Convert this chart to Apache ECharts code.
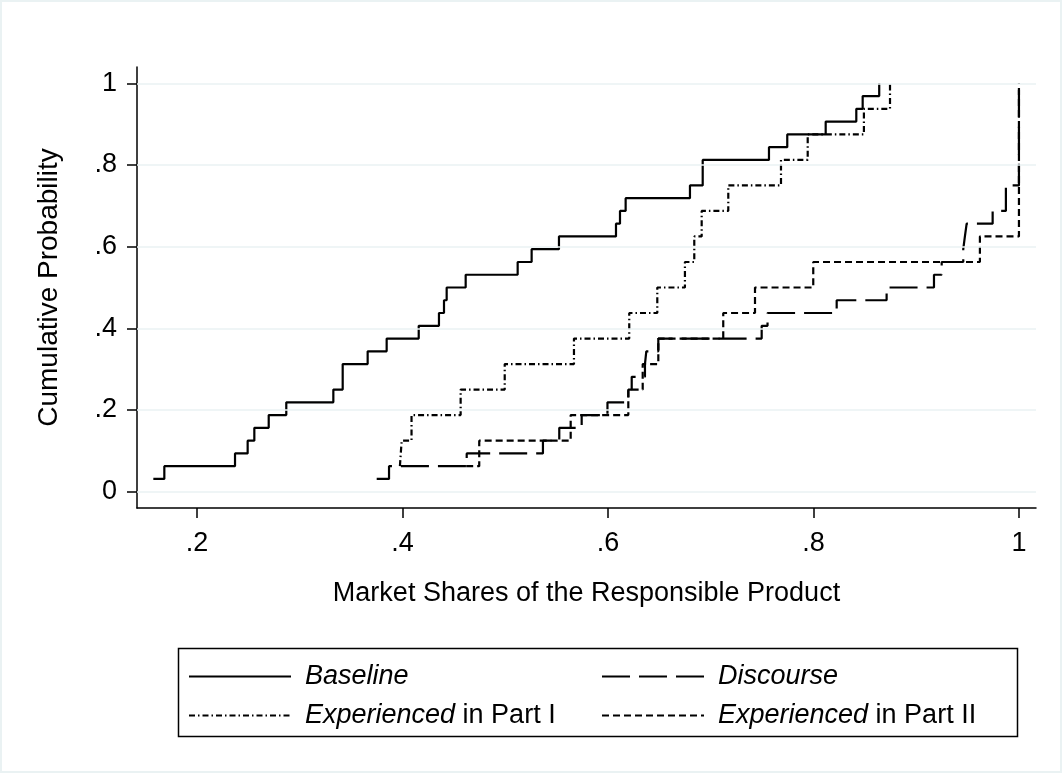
<!DOCTYPE html>
<html><head><meta charset="utf-8">
<script src="https://cdn.jsdelivr.net/npm/echarts@6/dist/echarts.min.js"></script>
<style>html,body{margin:0;padding:0;background:#fff}#c{width:1062px;height:773px}</style>
</head><body><div id="c"></div>
<script>
const xTicks = [0.2, 0.4, 0.6, 0.8, 1];
const yTicks = [0, 0.2, 0.4, 0.6, 0.8, 1];

const baselineX = [0.1575, 0.1682, 0.2370, 0.2493, 0.2558, 0.2698, 0.2869, 0.3327, 0.3418, 0.3418, 0.3661, 0.3846, 0.4158, 0.4355, 0.4404, 0.4430, 0.4615, 0.5121, 0.5257, 0.5523, 0.6078, 0.6117, 0.6172, 0.6798, 0.6922, 0.6922, 0.7567, 0.7745, 0.8119, 0.8417, 0.8479, 0.8640];
const baselineY = [0.03125, 0.0625, 0.09375, 0.125, 0.15625, 0.1875, 0.21875, 0.25, 0.28125, 0.3125, 0.34375, 0.375, 0.40625, 0.4375, 0.46875, 0.5, 0.53125, 0.5625, 0.59375, 0.625, 0.65625, 0.6875, 0.71875, 0.75, 0.78125, 0.8125, 0.84375, 0.875, 0.90625, 0.9375, 0.96875, 1];

const discourseX = [0.3749, 0.3869, 0.4625, 0.5367, 0.5526, 0.5744, 0.5995, 0.6198, 0.6231, 0.6360, 0.6373, 0.6490, 0.7496, 0.7553, 0.8226, 0.8712, 0.9173, 0.9248, 0.9458, 0.9474, 0.9491, 0.9744, 0.9873, 0.9873, 1, 1, 1, 1, 1, 1, 1, 1];
const discourseY = [0.03125, 0.0625, 0.09375, 0.125, 0.15625, 0.1875, 0.21875, 0.25, 0.28125, 0.3125, 0.34375, 0.375, 0.40625, 0.4375, 0.46875, 0.5, 0.53125, 0.5625, 0.59375, 0.625, 0.65625, 0.6875, 0.71875, 0.75, 0.78125, 0.8125, 0.84375, 0.875, 0.90625, 0.9375, 0.96875, 1];

const exp1X = [0.3975, 0.3992, 0.4088, 0.4566, 0.4995, 0.5669, 0.6207, 0.6480, 0.6749, 0.6840, 0.6912, 0.7171, 0.7684, 0.7944, 0.8491, 0.8745];
const exp1Y = [0.0625, 0.125, 0.1875, 0.25, 0.3125, 0.375, 0.4375, 0.5, 0.5625, 0.625, 0.6875, 0.75, 0.8125, 0.875, 0.9375, 1];

const exp2X = [0.4620, 0.4747, 0.5637, 0.6198, 0.6338, 0.6490, 0.7122, 0.7431, 0.7998, 0.9620, 1, 1, 1, 1, 1, 1];
const exp2Y = [0.0625, 0.125, 0.1875, 0.25, 0.3125, 0.375, 0.4375, 0.5, 0.5625, 0.625, 0.6875, 0.75, 0.8125, 0.875, 0.9375, 1];

const seriesNames = ['Baseline', 'Discourse', 'Experienced in Part I', 'Experienced in Part II'];

const FONT = '"Liberation Sans", Arial, Helvetica, sans-serif';
const FS = 27;
const fmt = v => { const s = String(+v.toFixed(2)); return s.replace(/^0\./, '.'); };
const pairs = (xs, ys) => xs.map((x, i) => [x, ys[i]]);

function lineSeries(name, xs, ys, dash) {
  return {
    name, type: 'line', step: 'end', symbol: 'none', showSymbol: false, z: 3,
    data: pairs(xs, ys),
    lineStyle: { color: '#000', width: 2.2, type: dash, cap: 'butt' },
    itemStyle: { color: '#000' },
    emphasis: { disabled: true }
  };
}

const legendText = {
  fontSize: FS, fontFamily: FONT, color: '#000', padding: [0, 0, 0, 9],
  rich: { i: { fontStyle: 'italic', fontSize: FS, fontFamily: FONT, color: '#000' },
          n: { fontSize: FS, fontFamily: FONT, color: '#000' } }
};
const legendFmt = name => name.startsWith('Experienced')
  ? '{i|Experienced}{n|' + name.slice(11) + '}'
  : '{i|' + name + '}';

const legendCommon = {
  orient: 'vertical', top: 663, itemWidth: 102, itemHeight: 26, itemGap: 12, padding: 0,
  formatter: legendFmt, textStyle: legendText, selectedMode: false,
  itemStyle: { opacity: 0, borderWidth: 0 }
};

const option = {
  animation: false,
  backgroundColor: '#fff',
  grid: { left: 137, right: 26, top: 67, bottom: 265 },
  xAxis: {
    type: 'value', min: 0.1416, max: 1.0166,
    axisLine: { onZero: false, lineStyle: { color: '#000', width: 1.5 } },
    axisTick: { customValues: xTicks, length: 10, lineStyle: { color: '#000', width: 1.5 } },
    axisLabel: { customValues: xTicks, formatter: fmt, margin: 22, fontSize: FS, fontFamily: FONT, color: '#000' },
    splitLine: { show: false },
    name: 'Market Shares of the Responsible Product', nameLocation: 'middle', nameGap: 72,
    nameTextStyle: { fontSize: FS, fontFamily: FONT, color: '#000' }
  },
  yAxis: {
    type: 'value', min: -0.04, max: 1.04,
    axisLine: { onZero: false, lineStyle: { color: '#000', width: 1.5 } },
    axisTick: { customValues: yTicks, length: 10, lineStyle: { color: '#000', width: 1.5 } },
    axisLabel: { customValues: yTicks, formatter: fmt, margin: 20, fontSize: FS, fontFamily: FONT, color: '#000' },
    splitLine: { show: false },
    name: 'Cumulative Probability', nameLocation: 'middle', nameGap: 74,
    nameTextStyle: { fontSize: 28, fontFamily: FONT, color: '#000' }
  },
  legend: [
    Object.assign({ data: [seriesNames[0], seriesNames[2]], left: 188 }, legendCommon),
    Object.assign({ data: [seriesNames[1], seriesNames[3]], left: 601 }, legendCommon)
  ],
  graphic: [
    { type: 'rect', z: -10, silent: true, shape: { x: 0, y: 0, width: 1062, height: 773 },
      style: { fill: 'none', stroke: '#eaf2f3', lineWidth: 4 } },
    { type: 'rect', z: -10, silent: true, shape: { x: 178.5, y: 648.5, width: 839, height: 88 },
      style: { fill: 'none', stroke: '#000', lineWidth: 1.5 } }
  ],
  series: [
    { name: 'grid', type: 'line', data: [], z: 1, silent: true,
      markLine: { silent: true, symbol: ['none', 'none'], label: { show: false },
        lineStyle: { color: '#eaf2f3', width: 1.5, type: 'solid' },
        data: yTicks.map(v => ({ yAxis: v })) } },
    lineSeries(seriesNames[0], baselineX, baselineY, 'solid'),
    lineSeries(seriesNames[1], discourseX, discourseY, [28, 9]),
    lineSeries(seriesNames[2], exp1X, exp1Y, [6, 3, 1.5, 3]),
    lineSeries(seriesNames[3], exp2X, exp2Y, [7, 4])
  ]
};
const chart = echarts.init(document.getElementById('c'), null, { renderer: 'canvas' });
chart.setOption(option);
</script>
</body></html>
